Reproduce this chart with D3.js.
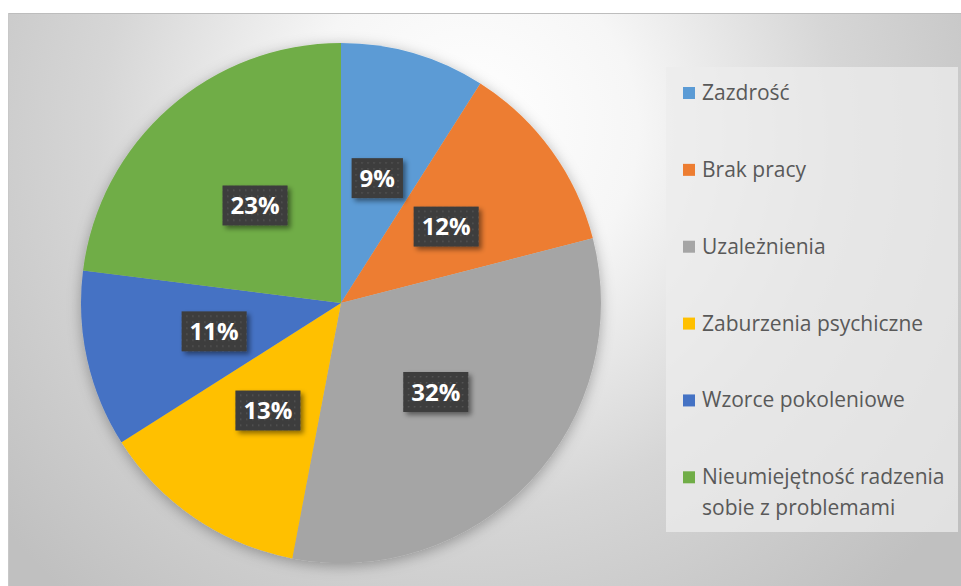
<!DOCTYPE html>
<html>
<head>
<meta charset="utf-8">
<script src="https://cdn.jsdelivr.net/npm/d3@7"></script>
<style>
html,body{margin:0;padding:0;background:#fff;}
svg{display:block;}
</style>
</head>
<body>
<svg id="chart" width="961" height="586"></svg>
<script>
const categories = ["Zazdrość","Brak pracy","Uzależnienia","Zaburzenia psychiczne","Wzorce pokoleniowe","Nieumiejętność radzenia sobie z problemami"];
const legendLines = [["Zazdrość"],["Brak pracy"],["Uzależnienia"],["Zaburzenia psychiczne"],["Wzorce pokoleniowe"],["Nieumiejętność radzenia","sobie z problemami"]];
const values = [9,12,32,13,11,23];
const valueLabels = ["9%","12%","32%","13%","11%","23%"];
const colors = ["#5B9BD5","#ED7D31","#A5A5A5","#FFC000","#4472C4","#70AD47"];

const svg = d3.select("#chart");
const defs = svg.append("defs");

const bg = defs.append("radialGradient").attr("id","bg")
  .attr("gradientUnits","userSpaceOnUse")
  .attr("cx",470).attr("cy",150).attr("r",600)
  .attr("fx",470).attr("fy",120);
bg.append("stop").attr("offset","0%").attr("stop-color","#ffffff");
bg.append("stop").attr("offset","28%").attr("stop-color","#f6f6f6");
bg.append("stop").attr("offset","62%").attr("stop-color","#d6d6d6");
bg.append("stop").attr("offset","100%").attr("stop-color","#c0c0c0");

const pieShadow = defs.append("filter").attr("id","pieShadow")
  .attr("x","-20%").attr("y","-20%").attr("width","140%").attr("height","140%");
pieShadow.append("feDropShadow").attr("dx",0).attr("dy",3).attr("stdDeviation",7)
  .attr("flood-color","#000").attr("flood-opacity",0.3);

const boxShadow = defs.append("filter").attr("id","boxShadow")
  .attr("x","-30%").attr("y","-30%").attr("width","170%").attr("height","170%");
boxShadow.append("feDropShadow").attr("dx",3).attr("dy",3).attr("stdDeviation",2.5)
  .attr("flood-color","#000").attr("flood-opacity",0.45);

const pat = defs.append("pattern").attr("id","dots").attr("patternUnits","userSpaceOnUse")
  .attr("width",6).attr("height",6);
pat.append("rect").attr("width",6).attr("height",6).attr("fill","#3c3c3c");
pat.append("rect").attr("x",2).attr("y",2).attr("width",1.5).attr("height",1.5).attr("fill","#555555");

// chart area
svg.append("rect").attr("x",8).attr("y",13).attr("width",953).attr("height",573).attr("fill","url(#bg)");
svg.append("line").attr("x1",8).attr("x2",961).attr("y1",13.5).attr("y2",13.5).attr("stroke","#bdbdbd").attr("stroke-width",1);
svg.append("line").attr("x1",8.5).attr("x2",8.5).attr("y1",13).attr("y2",586).attr("stroke","#c8c8c8").attr("stroke-width",1);

const cx = 341, cy = 303, R = 260;
const pie = d3.pie().sort(null).value(d => d)(values);
const arc = d3.arc().innerRadius(0).outerRadius(R);
const labelArc = d3.arc().innerRadius(R*0.5).outerRadius(R*0.5);

const g = svg.append("g").attr("transform",`translate(${cx},${cy})`);
g.append("g").attr("filter","url(#pieShadow)")
  .selectAll("path").data(pie).join("path")
  .attr("d",arc).attr("fill",(d,i)=>colors[i]);

const lab = g.append("g").selectAll("g").data(pie).join("g")
  .attr("transform",d=>{const c=labelArc.centroid(d);return `translate(${c[0]},${c[1]})`;});
const rects = lab.append("rect").attr("fill","url(#dots)").attr("filter","url(#boxShadow)");
const texts = lab.append("text").text((d,i)=>valueLabels[i])
  .attr("text-anchor","middle").attr("dy","0.36em")
  .attr("font-family","'Open Sans', sans-serif").attr("font-weight","bold")
  .attr("font-size",24).attr("fill","#ffffff");
texts.each(function(d,i){
  const w = this.getComputedTextLength();
  d3.select(rects.nodes()[i]).attr("x",-w/2-8).attr("y",-20).attr("width",w+16).attr("height",40);
});

// legend
svg.append("rect").attr("x",666).attr("y",67).attr("width",292).attr("height",465)
  .attr("fill","#ececec").attr("fill-opacity",0.75);
const ly = d3.scalePoint().domain(categories).range([100,484.3]);
const leg = svg.append("g").selectAll("g").data(categories).join("g")
  .attr("transform",d=>`translate(0,${ly(d)})`);
leg.append("rect").attr("x",683).attr("y",-13).attr("width",12).attr("height",12)
  .attr("fill",(d,i)=>colors[i]);
leg.append("text").attr("x",702).attr("font-family","'Open Sans', sans-serif")
  .attr("font-size",21).attr("fill","#595959")
  .selectAll("tspan").data((d,i)=>legendLines[i]).join("tspan")
  .attr("x",702).attr("dy",(d,j)=>j===0?0:31).text(d=>d);
</script>
</body>
</html>
